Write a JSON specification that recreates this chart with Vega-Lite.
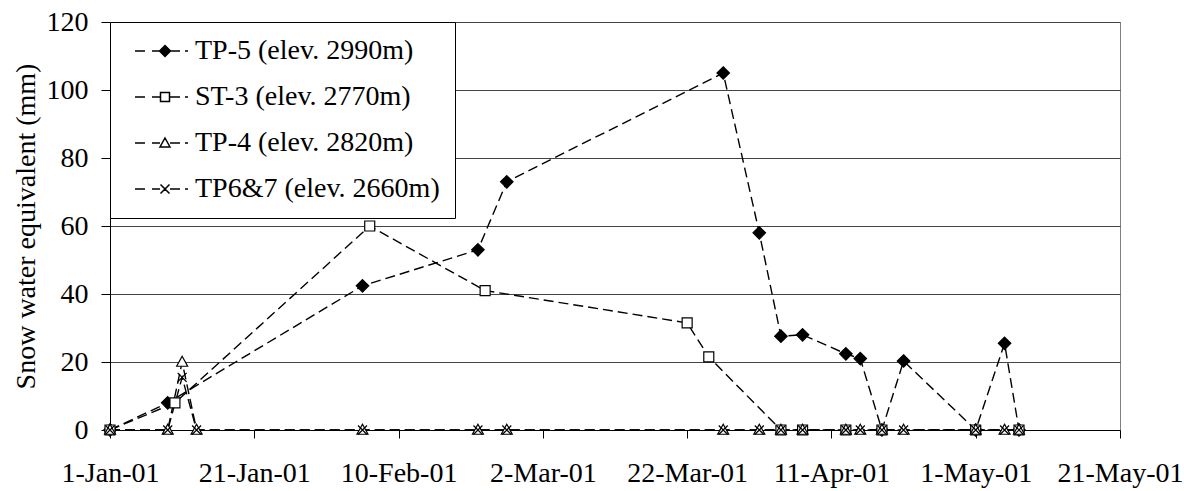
{
  "$schema": "https://vega.github.io/schema/vega-lite/v6.json",
  "width": 1010,
  "height": 408,
  "autosize": {"type": "none"},
  "padding": {"left": 110, "top": 22, "right": 64, "bottom": 61},
  "background": "white",
  "config": {
    "font": "serif",
    "view": {"stroke": "#808080", "strokeWidth": 1},
    "axis": {
      "labelFont": "serif", "labelFontSize": 28, "labelColor": "black",
      "titleFont": "serif", "titleFontSize": 28, "titleFontWeight": "normal", "titleColor": "black",
      "domainColor": "black", "domainWidth": 1, "tickColor": "black", "tickWidth": 1, "gridColor": "#444", "gridWidth": 1
    },
    "legend": {
      "orient": "top-left", "offset": 0, "padding": 15,
      "strokeColor": "black", "fillColor": "white",
      "labelFont": "serif", "labelFontSize": 28, "labelColor": "black", "labelLimit": 400,
      "symbolSize": 100, "symbolStrokeColor": "black", "symbolStrokeWidth": 1.5,
      "symbolOffset": 26, "labelOffset": 16, "rowPadding": 18, "symbolOpacity": 1
    }
  },
  "data": {"values": [
    {"site": "TP-5 (elev. 2990m)", "date": "2001-01-01", "swe": 0},
    {"site": "TP-5 (elev. 2990m)", "date": "2001-01-09", "swe": 8},
    {"site": "TP-5 (elev. 2990m)", "date": "2001-02-05", "swe": 42.4},
    {"site": "TP-5 (elev. 2990m)", "date": "2001-02-21", "swe": 53},
    {"site": "TP-5 (elev. 2990m)", "date": "2001-02-25", "swe": 73},
    {"site": "TP-5 (elev. 2990m)", "date": "2001-03-27", "swe": 105},
    {"site": "TP-5 (elev. 2990m)", "date": "2001-04-01", "swe": 58},
    {"site": "TP-5 (elev. 2990m)", "date": "2001-04-04", "swe": 27.6},
    {"site": "TP-5 (elev. 2990m)", "date": "2001-04-07", "swe": 28},
    {"site": "TP-5 (elev. 2990m)", "date": "2001-04-13", "swe": 22.4},
    {"site": "TP-5 (elev. 2990m)", "date": "2001-04-15", "swe": 21},
    {"site": "TP-5 (elev. 2990m)", "date": "2001-04-18", "swe": 0},
    {"site": "TP-5 (elev. 2990m)", "date": "2001-04-21", "swe": 20.3},
    {"site": "TP-5 (elev. 2990m)", "date": "2001-05-01", "swe": 0},
    {"site": "TP-5 (elev. 2990m)", "date": "2001-05-05", "swe": 25.5},
    {"site": "TP-5 (elev. 2990m)", "date": "2001-05-07", "swe": 0},
    {"site": "ST-3 (elev. 2770m)", "date": "2001-01-01", "swe": 0},
    {"site": "ST-3 (elev. 2770m)", "date": "2001-01-10", "swe": 8},
    {"site": "ST-3 (elev. 2770m)", "date": "2001-02-06", "swe": 60},
    {"site": "ST-3 (elev. 2770m)", "date": "2001-02-22", "swe": 41},
    {"site": "ST-3 (elev. 2770m)", "date": "2001-03-22", "swe": 31.5},
    {"site": "ST-3 (elev. 2770m)", "date": "2001-03-25", "swe": 21.5},
    {"site": "ST-3 (elev. 2770m)", "date": "2001-04-04", "swe": 0},
    {"site": "ST-3 (elev. 2770m)", "date": "2001-04-07", "swe": 0},
    {"site": "ST-3 (elev. 2770m)", "date": "2001-04-13", "swe": 0},
    {"site": "ST-3 (elev. 2770m)", "date": "2001-04-18", "swe": 0},
    {"site": "ST-3 (elev. 2770m)", "date": "2001-05-01", "swe": 0},
    {"site": "ST-3 (elev. 2770m)", "date": "2001-05-07", "swe": 0},
    {"site": "TP-4 (elev. 2820m)", "date": "2001-01-01", "swe": 0},
    {"site": "TP-4 (elev. 2820m)", "date": "2001-01-09", "swe": 0},
    {"site": "TP-4 (elev. 2820m)", "date": "2001-01-11", "swe": 20},
    {"site": "TP-4 (elev. 2820m)", "date": "2001-01-13", "swe": 0},
    {"site": "TP-4 (elev. 2820m)", "date": "2001-02-05", "swe": 0},
    {"site": "TP-4 (elev. 2820m)", "date": "2001-02-21", "swe": 0},
    {"site": "TP-4 (elev. 2820m)", "date": "2001-02-25", "swe": 0},
    {"site": "TP-4 (elev. 2820m)", "date": "2001-03-27", "swe": 0},
    {"site": "TP-4 (elev. 2820m)", "date": "2001-04-01", "swe": 0},
    {"site": "TP-4 (elev. 2820m)", "date": "2001-04-04", "swe": 0},
    {"site": "TP-4 (elev. 2820m)", "date": "2001-04-07", "swe": 0},
    {"site": "TP-4 (elev. 2820m)", "date": "2001-04-13", "swe": 0},
    {"site": "TP-4 (elev. 2820m)", "date": "2001-04-15", "swe": 0},
    {"site": "TP-4 (elev. 2820m)", "date": "2001-04-18", "swe": 0},
    {"site": "TP-4 (elev. 2820m)", "date": "2001-04-21", "swe": 0},
    {"site": "TP-4 (elev. 2820m)", "date": "2001-05-01", "swe": 0},
    {"site": "TP-4 (elev. 2820m)", "date": "2001-05-05", "swe": 0},
    {"site": "TP-4 (elev. 2820m)", "date": "2001-05-07", "swe": 0},
    {"site": "TP6&7 (elev. 2660m)", "date": "2001-01-01", "swe": 0},
    {"site": "TP6&7 (elev. 2660m)", "date": "2001-01-09", "swe": 0},
    {"site": "TP6&7 (elev. 2660m)", "date": "2001-01-11", "swe": 15.5},
    {"site": "TP6&7 (elev. 2660m)", "date": "2001-01-13", "swe": 0},
    {"site": "TP6&7 (elev. 2660m)", "date": "2001-02-05", "swe": 0},
    {"site": "TP6&7 (elev. 2660m)", "date": "2001-02-21", "swe": 0},
    {"site": "TP6&7 (elev. 2660m)", "date": "2001-02-25", "swe": 0},
    {"site": "TP6&7 (elev. 2660m)", "date": "2001-03-27", "swe": 0},
    {"site": "TP6&7 (elev. 2660m)", "date": "2001-04-01", "swe": 0},
    {"site": "TP6&7 (elev. 2660m)", "date": "2001-04-04", "swe": 0},
    {"site": "TP6&7 (elev. 2660m)", "date": "2001-04-07", "swe": 0},
    {"site": "TP6&7 (elev. 2660m)", "date": "2001-04-13", "swe": 0},
    {"site": "TP6&7 (elev. 2660m)", "date": "2001-04-15", "swe": 0},
    {"site": "TP6&7 (elev. 2660m)", "date": "2001-04-18", "swe": 0},
    {"site": "TP6&7 (elev. 2660m)", "date": "2001-04-21", "swe": 0},
    {"site": "TP6&7 (elev. 2660m)", "date": "2001-05-01", "swe": 0},
    {"site": "TP6&7 (elev. 2660m)", "date": "2001-05-05", "swe": 0},
    {"site": "TP6&7 (elev. 2660m)", "date": "2001-05-07", "swe": 0}
  ]},
  "encoding": {
    "x": {
      "field": "date", "type": "temporal",
      "scale": {"type": "utc", "domain": [{"year": 2001, "month": 1, "date": 1, "utc": true}, {"year": 2001, "month": 5, "date": 21, "utc": true}]},
      "axis": {
        "title": null, "grid": false, "format": "%-d-%b-%y", "tickSize": 8, "labelPadding": 21,
        "labelFlush": false, "labelOverlap": false,
        "values": [
          {"year": 2001, "month": 1, "date": 1, "utc": true},
          {"year": 2001, "month": 1, "date": 21, "utc": true},
          {"year": 2001, "month": 2, "date": 10, "utc": true},
          {"year": 2001, "month": 3, "date": 2, "utc": true},
          {"year": 2001, "month": 3, "date": 22, "utc": true},
          {"year": 2001, "month": 4, "date": 11, "utc": true},
          {"year": 2001, "month": 5, "date": 1, "utc": true},
          {"year": 2001, "month": 5, "date": 21, "utc": true}
        ]
      }
    },
    "y": {
      "field": "swe", "type": "quantitative",
      "scale": {"domain": [0, 120]},
      "axis": {"title": "Snow water equivalent (mm)", "values": [0, 20, 40, 60, 80, 100, 120], "grid": true, "tickSize": 9, "labelPadding": 13, "titlePadding": 6}
    }
  },
  "layer": [
    {
      "mark": {"type": "line", "stroke": "black", "strokeDash": [10, 5], "strokeWidth": 1.4},
      "encoding": {"detail": {"field": "site"}}
    },
    {
      "mark": {"type": "point", "filled": true, "stroke": "black", "strokeWidth": 1.2, "size": 100, "opacity": 1},
      "encoding": {
        "shape": {"field": "site", "legend": null, "scale": {
          "domain": ["TP-5 (elev. 2990m)", "ST-3 (elev. 2770m)", "TP-4 (elev. 2820m)", "TP6&7 (elev. 2660m)"],
          "range": ["M0,-1.25L1.25,0L0,1.25L-1.25,0Z", "M-1,-1H1V1H-1Z", "M0,-1.15L1.1,0.85L-1.1,0.85Z", "M-0.9,-0.9L0.9,0.9M-0.9,0.9L0.9,-0.9"]}},
        "fill": {"field": "site", "legend": null, "scale": {
          "domain": ["TP-5 (elev. 2990m)", "ST-3 (elev. 2770m)", "TP-4 (elev. 2820m)", "TP6&7 (elev. 2660m)"],
          "range": ["black", "white", "white", "white"]}}
      }
    },
    {
      "mark": {"type": "point", "filled": true, "stroke": "black", "size": 100, "opacity": 0},
      "encoding": {
        "shape": {"field": "site", "legend": {"title": null, "encode": {"symbols": {"update": {"stroke": {"value": "black"}, "strokeWidth": {"value": 1.5}, "opacity": {"value": 1}, "strokeOpacity": {"value": 1}}}}}, "scale": {
          "domain": ["TP-5 (elev. 2990m)", "ST-3 (elev. 2770m)", "TP-4 (elev. 2820m)", "TP6&7 (elev. 2660m)"],
          "range": [
            "M-6,0H-4M-2.6,0H-1.2M1.2,0H3M4,0H4.6M0,-1.1L1.1,0L0,1.1L-1.1,0Z",
            "M-6,0H-4M-2.6,0H-1M1,0H3M4,0H4.6M-0.9,-0.9H0.9V0.9H-0.9Z",
            "M-6,0H-4M-2.6,0H-1M1,0H3M4,0H4.6M0,-1L1,0.8L-1,0.8Z",
            "M-6,0H-4M-2.6,0H-1M1,0H3M4,0H4.6M-0.9,-0.9L0.9,0.9M-0.9,0.9L0.9,-0.9"
          ]}},
        "fill": {"field": "site", "legend": {"title": null, "encode": {"symbols": {"update": {"stroke": {"value": "black"}, "strokeWidth": {"value": 1.5}, "opacity": {"value": 1}, "strokeOpacity": {"value": 1}}}}}, "scale": {
          "domain": ["TP-5 (elev. 2990m)", "ST-3 (elev. 2770m)", "TP-4 (elev. 2820m)", "TP6&7 (elev. 2660m)"],
          "range": ["black", "white", "white", "white"]}}
      }
    }
  ],
  "resolve": {"scale": {"shape": "independent", "fill": "independent"}, "legend": {"shape": "independent", "fill": "independent"}}
}
